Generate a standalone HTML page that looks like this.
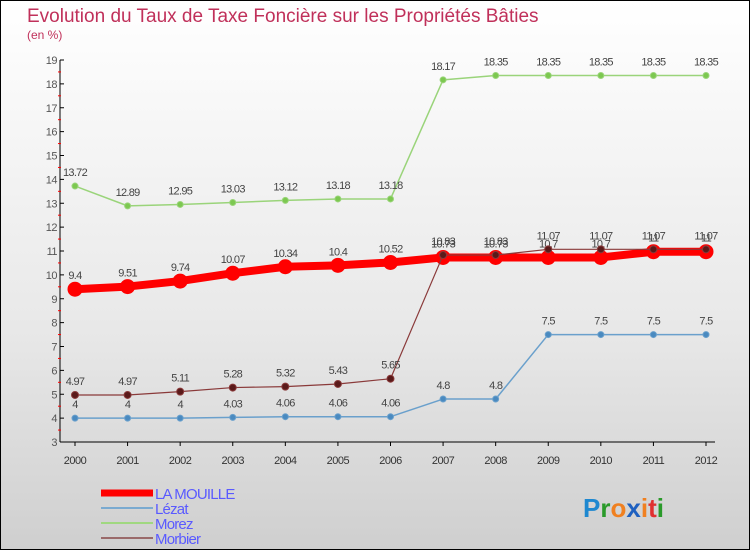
<!DOCTYPE html>
<html><head><meta charset="utf-8"><style>
body{margin:0}
#c{width:750px;height:550px;position:relative;box-sizing:border-box;border:1px solid #000;background:linear-gradient(#ffffff,#e8e8e8 60%,#cfcfcf);font-family:"Liberation Sans",sans-serif;overflow:hidden}
</style></head><body>
<div id="c">
<svg id="s" width="750" height="550" style="position:absolute;left:-1px;top:-1px">
<text x="27" y="22" font-size="19" fill="#c0305a">Evolution du Taux de Taxe Foncière sur les Propriétés Bâties</text>
<text x="27" y="39" font-size="12" fill="#c0305a">(en %)</text>
</svg>
</div>
<script>
const years=["2000","2001","2002","2003","2004","2005","2006","2007","2008","2009","2010","2011","2012"];
const laMouille=[9.4,9.51,9.74,10.07,10.34,10.4,10.52,10.73,10.73,10.73,10.73,10.97,10.97];
const laMouilleLabels=["9.4","9.51","9.74","10.07","10.34","10.4","10.52","10.73","10.73","10.7","10.7","11","11"];
const lezat=[4,4,4,4.03,4.06,4.06,4.06,4.8,4.8,7.5,7.5,7.5,7.5];
const morez=[13.72,12.89,12.95,13.03,13.12,13.18,13.18,18.17,18.35,18.35,18.35,18.35,18.35];
const morbier=[4.97,4.97,5.11,5.28,5.32,5.43,5.65,10.83,10.83,11.07,11.07,11.07,11.07];
const yTicks=[3,4,5,6,7,8,9,10,11,12,13,14,15,16,17,18,19];
const NS="http://www.w3.org/2000/svg";
const s=document.getElementById('s');
const X=i=>75+i*(706-75)/12;
const Y=v=>442-(v-3)*23.875;
function el(t,a,p){const e=document.createElementNS(NS,t);for(const k in a)e.setAttribute(k,a[k]);(p||s).appendChild(e);return e;}
let ax=el('line',{x1:60,y1:60,x2:60,y2:442,stroke:'#000'});


let axx=el('line',{x1:60,y1:442,x2:715,y2:442,stroke:'#000'});


yTicks.forEach(v=>{
 el('line',{x1:60,y1:Y(v),x2:64,y2:Y(v),stroke:'#000'});
 if(v<19)el('line',{x1:58,y1:Y(v+0.5),x2:61,y2:Y(v+0.5),stroke:'#f00'});
 let t=el('text',{x:57,y:Y(v)+4,'font-size':11,fill:'#555','text-anchor':'end','letter-spacing':'-0.5'});t.textContent=v;
 
 
});
years.forEach((y,i)=>{
 el('line',{x1:X(i),y1:442,x2:X(i),y2:446,stroke:'#000'});
 let t=el('text',{x:X(i),y:464,'font-size':11,fill:'#333','text-anchor':'middle','letter-spacing':'-0.5'});t.textContent=y;
 
 
});
function series(vals,labels,color,dot,w,r,name){
 const g=el('g',{});
 
 
 el('polyline',{points:vals.map((v,i)=>X(i)+','+Y(v)).join(' '),fill:'none',stroke:color,'stroke-width':w,'stroke-linejoin':'round'},g);
 vals.forEach((v,i)=>{
  const c=el('circle',{cx:X(i),cy:Y(v),r:r,fill:dot,stroke:color,'stroke-width':1},g);
  
  
  const t=el('text',{x:X(i),y:Y(v)-10,'font-size':11,fill:'#444','text-anchor':'middle','letter-spacing':'-0.7'},g);
  t.textContent=labels?labels[i]:String(v);
 });
}
series(lezat,null,'#6aa0cc','#4a8ac0',1.5,3,'series-lezat');
series(morez,null,'#9ad47a','#7cc850',1.5,3,'series-morez');
series(laMouille,laMouilleLabels,'#f00','#f00',8,7,'series-la-mouille');
series(morbier,null,'#8a3a3a','#5a1a1a',1.2,3.5,'series-morbier');
const leg=[['LA MOUILLE','#f00',7],['Lézat','#7aaad0',2],['Morez','#a0d880',2],['Morbier','#9a6a6a',2]];
leg.forEach((l,i)=>{
 const g=el('g',{});
 
 
 const y=493+i*15;
 el('line',{x1:101,y1:y,x2:153,y2:y,stroke:l[1],'stroke-width':l[2]},g);
 const t=el('text',{x:155,y:y+6,'font-size':15,fill:'#5a5aff','letter-spacing':'-0.8'},g);t.textContent=l[0];
});
const logo=el('text',{x:583,y:517,'font-size':26,'font-weight':'bold'});


[['P','#1e88d0'],['r','#2a9a2a'],['o','#f08020'],['x','#1e60c0'],['i','#f08020'],['t','#e03030'],['i','#2a9a2a']].forEach(c=>{const ts=el('tspan',{fill:c[1]},logo);ts.textContent=c[0];});
</script>
</body></html>
